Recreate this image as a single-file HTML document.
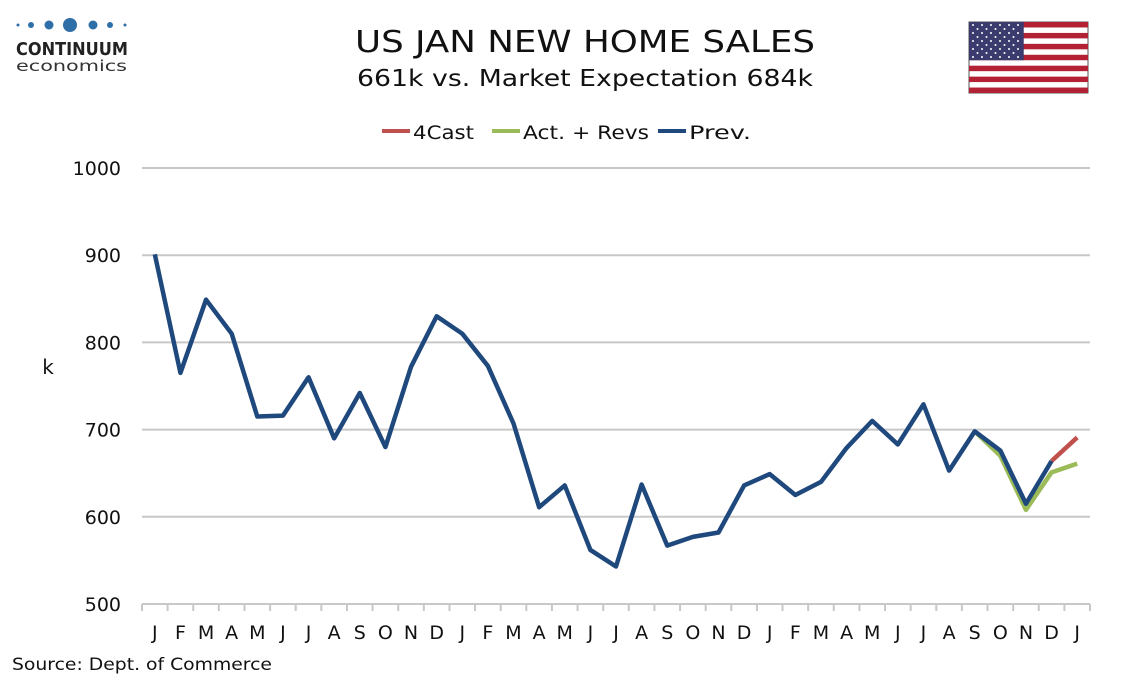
<!DOCTYPE html>
<html><head><meta charset="utf-8"><style>
body{margin:0;width:1134px;height:680px;background:#fff;font-family:"DejaVu Sans","Liberation Sans",sans-serif;overflow:hidden}
svg{position:absolute;left:0;top:0}
svg text{font-family:"DejaVu Sans","Liberation Sans",sans-serif}
</style></head><body>
<svg id="c" width="1134" height="680">
<g>
<circle cx="18" cy="25" r="1.5" fill="#2f6fa8"/><circle cx="31" cy="25" r="3" fill="#2f6fa8"/><circle cx="49" cy="25" r="4.5" fill="#2f6fa8"/><circle cx="70" cy="25" r="7" fill="#2f6fa8"/><circle cx="93" cy="25" r="4.5" fill="#2f6fa8"/><circle cx="110" cy="25" r="3" fill="#2f6fa8"/><circle cx="125" cy="25" r="1.5" fill="#2f6fa8"/>
<text x="16" y="55" font-size="18" font-weight="bold" fill="#222" textLength="112" lengthAdjust="spacingAndGlyphs">CONTINUUM</text>
<text x="16" y="71" font-size="15" fill="#333" textLength="111" lengthAdjust="spacingAndGlyphs">economics</text>
</g>
<text x="585" y="52" font-size="30" text-anchor="middle" fill="#111" textLength="460" lengthAdjust="spacingAndGlyphs">US JAN NEW HOME SALES</text>
<text x="585" y="86" font-size="23" text-anchor="middle" fill="#111" textLength="456" lengthAdjust="spacingAndGlyphs">661k vs. Market Expectation 684k</text>
<g id="flag"></g>
<g>
<line x1="382" y1="131" x2="410" y2="131" stroke="#c0504d" stroke-width="4"/><text x="413" y="139" font-size="19" fill="#111" textLength="61" lengthAdjust="spacingAndGlyphs">4Cast</text>
<line x1="492" y1="131" x2="520" y2="131" stroke="#9bbb59" stroke-width="4"/><text x="523" y="139" font-size="19" fill="#111" textLength="126" lengthAdjust="spacingAndGlyphs">Act. + Revs</text>
<line x1="658" y1="131" x2="686" y2="131" stroke="#1f497d" stroke-width="4"/><text x="689" y="139" font-size="19" fill="#111" textLength="62" lengthAdjust="spacingAndGlyphs">Prev.</text>
</g>
<text x="48" y="374" font-size="20" text-anchor="middle" fill="#111">k</text>
<g id="grid"></g><g id="series"></g>
<text x="12" y="670" font-size="17" fill="#111" textLength="260" lengthAdjust="spacingAndGlyphs">Source: Dept. of Commerce</text>
</svg>
<script>
const months=["J","F","M","A","M","J","J","A","S","O","N","D","J","F","M","A","M","J","J","A","S","O","N","D","J","F","M","A","M","J","J","A","S","O","N","D","J"];
const prevVals=[901,765,849,810,715,716,760,690,742,680,772,830,810,773,707,611,636,562,543,637,567,577,582,636,649,625,640,679,710,683,729,653,698,676,615,664];
const actVals={32:698,33:670,34:608,35:651,36:661};
const fcastVals={35:664,36:691};
const yTicks=[500,600,700,800,900,1000];
const NS="http://www.w3.org/2000/svg";
const x0=142,x1=1090,y0=604,y1=168;
const step=(x1-x0)/months.length;
const xs=i=>x0+step*(i+0.5);
const ys=v=>y0-(v-500)/(1000-500)*(y0-y1);
function mk(t,a,p){const e=document.createElementNS(NS,t);for(const k in a)e.setAttribute(k,a[k]);p.appendChild(e);return e;}
const g=document.getElementById('grid');
yTicks.forEach(v=>{
 if(v>500){const l=mk('line',{x1:x0,x2:x1,y1:ys(v),y2:ys(v),stroke:'#c8c8c8','stroke-width':2},g);
 
 }
 const t=mk('text',{x:121,y:ys(v)+7,'font-size':19,'text-anchor':'end',fill:'#111'},g);t.textContent=v;
 
 
});
const ax=mk('line',{x1:x0,x2:x1,y1:y0,y2:y0,stroke:'#c8c8c8','stroke-width':2},g);


for(let i=0;i<=months.length;i++){mk('line',{x1:x0+step*i,x2:x0+step*i,y1:y0,y2:y0+7,stroke:'#c8c8c8','stroke-width':2},g);}
months.forEach((m,i)=>{const t=mk('text',{x:xs(i),y:639,'font-size':19,'text-anchor':'middle',fill:'#111'},g);t.textContent=m;
 
 });
const s=document.getElementById('series');
function line(obj,color,name){const pts=Object.keys(obj).map(k=>xs(+k)+','+ys(obj[k])).join(' ');
 const p=mk('polyline',{points:pts,fill:'none',stroke:color,'stroke-width':4.5,'stroke-linejoin':'round'},s);
 
 }
line(fcastVals,'#c0504d','line-4cast');
line(actVals,'#9bbb59','line-act-revs');
line(Object.assign({},prevVals),'#1f497d','line-prev');
const f=document.getElementById('flag');
const fx=969,fy=22,fw=119,fh=71;
mk('rect',{x:fx,y:fy,width:fw,height:fh,fill:'#fff',stroke:'#555'},f);
for(let i=0;i<13;i+=2)mk('rect',{x:fx,y:fy+i*fh/13,width:fw,height:fh/13,fill:'#b22234'},f);
mk('rect',{x:fx,y:fy,width:fw*0.46,height:fh*7/13,fill:'#3c3b6e'},f);
for(let r=0;r<9;r++)for(let c=0;c<(r%2?5:6);c++)mk('circle',{cx:fx+4+c*9+(r%2?4.5:0),cy:fy+3+r*4,r:1,fill:'#fff'},f);
</script>
</body></html>
